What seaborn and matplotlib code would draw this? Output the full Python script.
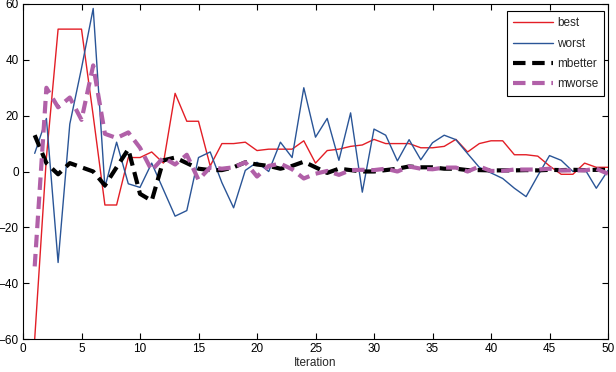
import numpy as np
import pandas as pd
import matplotlib
matplotlib.use("Agg")
import matplotlib.pyplot as plt
import seaborn as sns

# valores (iterações 1..50)
iteracao = np.arange(1, 51)

best = [-60, 5, 51, 51, 51, 20, -12, -12, 5, 5,
        7, 3, 28, 18, 18, 2, 10, 10, 10.5, 7.5,
        8, 8, 8, 11, 3, 7.5, 8, 9, 9.5, 11.5,
        10, 10, 10, 8.5, 8.5, 9, 11.5, 7, 10, 11,
        11, 6, 6, 5.5, 2, -1, -1, 3, 1.5, 1.5]

worst = [6.5, 19, -32.6, 17, 37, 58.4, -5.7, 10.5, -4.4, -5.7,
         3, -6.5, -16, -14, 5, 7, -4, -13, 0.4, 3.3,
         0, 10.5, 5, 30, 12.3, 19, 4, 21, -7.4, 15.2,
         13, 3.8, 11.4, 4.2, 10.3, 13, 11.4, 6.4, 1.5, -0.5,
         -2.5, -6, -9, -1.5, 5.7, 4, 0, 1, -6, 0.4]

mbetter = [13, 3, -1, 3, 1.5, 0, -5, 1.5, 8, -8,
           -10.5, 4, 5, 3, 1, 0.5, 0.5, 1.5, 3.3, 2.5,
           2, 1, 2, 3.5, 1.5, -0.5, 1, 0.5, 0, 0,
           0.5, 1, 1.8, 1.5, 1.5, 1, 1, 0.5, 0.5, 0.4,
           0.4, 0.4, 0.5, 0.4, 0.6, 0.5, 0.6, 0.5, 0.6, 0.6]

mworse = [-34, 30, 23, 26.5, 18.5, 38, 13.5, 12, 14, 8.5,
          0.4, 5, 2.5, 6, -3, 1.5, 1, 1.5, 3.3, -1.8,
          2, 2.8, 0.8, -2.5, -0.8, 0.2, -1.2, 0.5, 0.6, 0.5,
          1, 0, 1.8, 1, 0.8, 1.4, 1.4, 0, 1.8, 0.2,
          0.2, 0.7, 0.7, 0.7, 1, 0.4, 0.4, 0.4, 1, -0.8]

sns.set_style("ticks")
plt.rcParams['font.family'] = ['Liberation Sans', 'DejaVu Sans']
plt.rcParams['font.size'] = 8.5

fig = plt.figure(figsize=(6.16, 3.72), dpi=100)
ax = fig.add_axes([23/616, 1 - 339/372, (608 - 23)/616, (339 - 4)/372])

sns.lineplot(x=iteracao, y=best, ax=ax, color='#E31E26', lw=1.0, label='best')
sns.lineplot(x=iteracao, y=worst, ax=ax, color='#2A5597', lw=1.0, label='worst')
sns.lineplot(x=iteracao, y=mbetter, ax=ax, color='black', lw=3,
             dashes=False, label='mbetter').lines[-1].set_dashes((3, 1.6))
sns.lineplot(x=iteracao, y=mworse, ax=ax, color='#B160A8', lw=3,
             label='mworse').lines[-1].set_dashes((3, 1.6))

ax.set_xlim(0, 50)
ax.set_ylim(-60, 60)
ax.set_xticks(range(0, 51, 5))
ax.set_yticks(range(-60, 61, 20))
ax.tick_params(direction='in', length=4, width=0.8, top=True, right=True,
               labelsize=8.5, pad=3, colors='black')
for s in ax.spines.values():
    s.set_visible(True)
    s.set_linewidth(0.8)
    s.set_color('black')
ax.set_xlabel('Iteration', fontsize=8.5, labelpad=1)
ax.set_ylabel('')

leg = ax.legend(loc='upper right', bbox_to_anchor=(604/616, 1 - 11.5/372),
                bbox_transform=fig.transFigure, borderaxespad=0,
                fancybox=False, framealpha=1, edgecolor='black',
                handlelength=3.4, handletextpad=0.3, labelspacing=0.7,
                borderpad=0.5, fontsize=8.5)
leg.get_frame().set_linewidth(0.8)

fig.savefig('out.png', dpi=100)
